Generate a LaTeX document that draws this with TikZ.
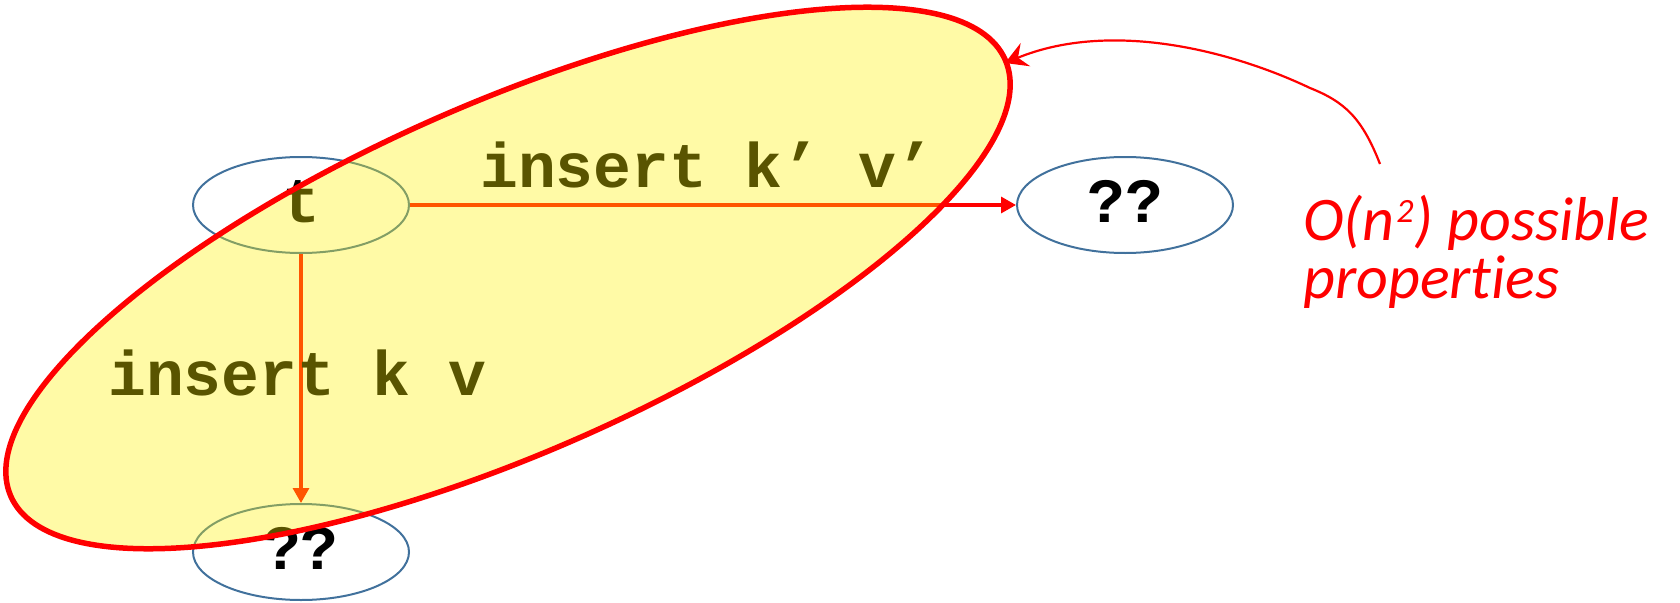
\documentclass[tikz,border=0pt]{standalone}
\usepackage{fontspec}
\setmonofont{Liberation Mono}
\newfontfamily\notefont[Ligatures=NoCommon]{Carlito}
\usetikzlibrary{shapes.geometric,arrows.meta}
\definecolor{nodeblue}{RGB}{65,113,156}
\begin{document}
\begin{tikzpicture}[x=1pt,y=-1pt,
  state/.style={ellipse, draw=nodeblue, line width=2pt, inner sep=0pt,
    minimum width=216pt, minimum height=96pt,
    font=\fontsize{63}{63}\selectfont\ttfamily\bfseries,
    text height=34pt, text depth=0pt},
  move/.style={draw=red, line width=3.2pt, -{Triangle[length=15pt,width=16pt]}},
  cmd/.style={font=\fontsize{63}{63}\selectfont\ttfamily\bfseries,
    inner sep=0pt, anchor=base west},
  note/.style={text=red, font=\fontsize{62}{58}\selectfont\notefont\itshape,
    inner sep=0pt, anchor=base west}]
\useasboundingbox (0,0) rectangle (1680,602);
% states and transitions
\node[state] (t) at (301,205) {t};
\node[state] (r) at (1125,205) {??};
\node[state] (b) at (301,552) {??};
\draw[move] (t) -- (r);
\draw[move] (t) -- (b);
\node[cmd] (l1) at (480,187) {insert k’ v’};
\node[cmd] (l2) at (108,395) {insert k v};
% highlighted region over the transitions
\node[ellipse, minimum width=1086pt, minimum height=350pt, rotate=23.7,
  draw=red, line width=5.5pt, fill=yellow, fill opacity=0.35, draw opacity=1,
  inner sep=0pt] (blob) at (508,278) {};
% annotation
\node[note] (n1) at (1303,240)
  {O(n\kern2pt\raisebox{18pt}{\fontsize{34}{34}\selectfont 2}\kern1pt) possible};
\node[note] (n2) at (1303,298) {properties};
\coordinate (from) at (1380,164);
\coordinate (to) at (1005,63);
\draw[red, line width=2.2pt, -{Stealth[length=22pt,width=25pt,inset=8pt]}]
  (from) .. controls (1362,118) and (1345,102) .. (1310,88)
         .. controls (1230,50) and (1110,20) .. (to);
\end{tikzpicture}
\end{document}
